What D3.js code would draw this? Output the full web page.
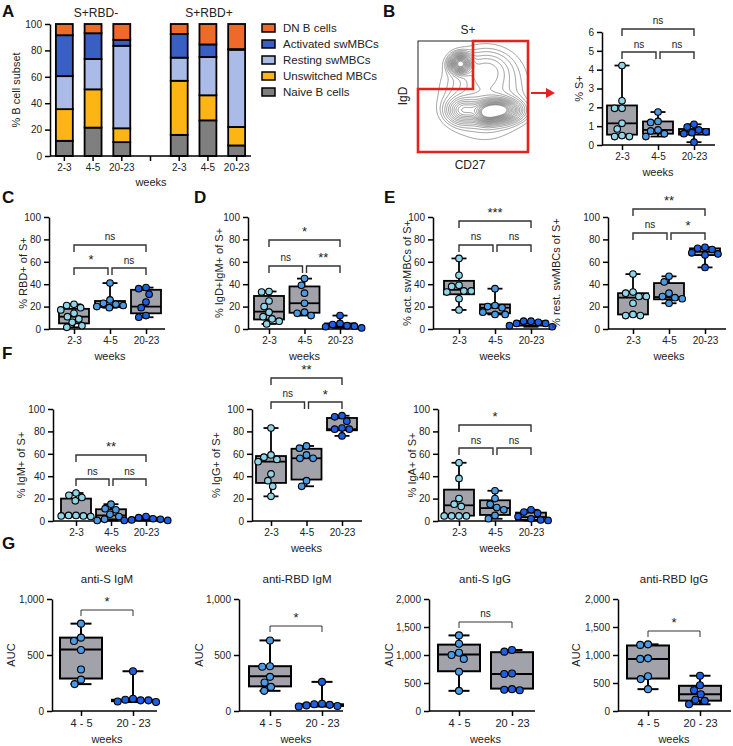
<!DOCTYPE html>
<html><head><meta charset="utf-8">
<script src="https://cdn.jsdelivr.net/npm/d3@7/dist/d3.min.js"></script>
<style>
body{margin:0;background:#fff;}
svg{display:block;font-family:"Liberation Sans",Arial,Helvetica,sans-serif;}
</style></head>
<body><svg id="c" width="733" height="746"></svg>
<script>
// ---------------- DATA ----------------
// Panel A: stacked subsets (% of B cell subset)
const subsetGroups = ["S+RBD-","S+RBD+"];
const subsetWeeks = ["2-3","4-5","20-23","","2-3","4-5","20-23"];
const subsetNames = ["Naive B cells","Unswitched MBCs","Resting swMBCs","Activated swMBCs","DN B cells"];
const naive      = [11.5,21.5,10.5,16,27,8];
const unswitched = [24,29,10.5,41,19,14];
const resting    = [25,23,62.5,17.5,29,58.5];
const activated  = [31,19.5,4.5,18,9.5,0.5];
const dnB        = [8.5,7,12,7.5,15.5,19];
const subsetColors = ["#7f7f7f","#fcb514","#a9bbe6","#3a5fc4","#ef6a2a"];

const weeks3 = ["2-3","4-5","20-23"];
const weeks2 = ["4 - 5","20 - 23"];

// Panel B: % S+
const sPts = [[4.22,2.35,1.95,1.95,1.15,0.85,0.5,0.45,0.45],[1.75,1.25,1.2,0.8,0.75,0.6,0.45],[1.1,0.95,0.8,0.7,0.65,0.6,0.15]];
const sBox = [[0.45,0.55,1.15,2.1,4.22],[0.45,0.6,0.8,1.25,1.75],[0.15,0.55,0.7,0.85,1.1]];
// Panel C: % RBD+ of S+
const rbdPts = [[22,21,19,17,14,11,9,6,3,1.5],[41,26,23,22,21,20,19],[37,36,31,24,19,12,10.5]];
const rbdBox = [[1.5,5,11,18,22],[19,19.5,21,25,41],[10.5,14,20,35,37]];
// Panel D: % IgD+IgM+ of S+
const igdPts = [[33.5,33,25,20,15,11,9,7,4.5],[45,39,32,23,15,14,12],[12,5,4,3,2.5,2,1]];
const igdBox = [[4.5,8.5,15.5,29.5,33.5],[12,14.5,23,38,45],[1,2,3,5,12]];
// Panel E: activated / resting swMBCs of S+
const actPts = [[63,48,39,38,34,34,33,27,17],[36,21,20,19,15,13,13],[7,7,6,5,5,3,2]];
const actBox = [[17,31,35,43,63],[13,14,19,22,36],[2,3,5,7,7]];
const restPts = [[49,33,32,29,29,23,13,12,12],[47,42,32,29,28,27,23],[73,72,71,68,67,66,55]];
const restBox = [[12,13,28,32,49],[23,26.5,28.5,41,47],[55,66,69,72,73]];
// Panel F: isotypes of S+
const igmPts = [[25,23,21,18,5,5,4.5,4.5,4],[15,11,10,6,4,1.5,0.5],[4,3,2,1.5,1,0.5,0.5]];
const igmBox = [[4,4.5,5.5,20,25],[0.5,1.5,5,10.5,15],[0.5,0.8,1.5,3,4]];
const iggPts = [[83,59,57,55,53,42,36,31,22],[67,65,59,56,56,36,31],[94,93,89,83,82,82,76]];
const iggBox = [[22,34,53,58,83],[31,37,56,64.5,67],[76,81,82,92,94]];
const igaPts = [[52,38,20,15,13,4.5,4.5,4.5,4.5],[27,20,15,12,10,5,2],[10,8,7,4,2,1,0.5]];
const igaBox = [[4.5,4.8,14,28,52],[2,5.4,11.5,18.5,27],[0.5,1,3.5,7.5,10]];
// Panel G: AUC
const sIgMPts = [[780,655,625,545,370,280,240],[355,110,100,95,95,85,80]];
const sIgMBox = [[240,290,550,655,780],[80,88,95,100,355]];
const rIgMPts = [[630,400,395,305,255,215,180],[260,65,60,55,50,45,40]];
const rIgMBox = [[180,220,310,400,630],[40,45,52,60,260]];
const sIgGPts = [[1350,1200,1040,1000,930,700,360],[1090,1060,670,660,390,380,370]];
const sIgGBox = [[360,710,1010,1185,1350],[370,400,660,1050,1090]];
const rIgGPts = [[1190,1180,940,930,620,570,390],[630,460,370,300,200,180,120]];
const rIgGBox = [[390,580,930,1170,1190],[120,185,300,450,630]];

// flow cytometry illustration: density blobs [cx, cy, sx, sy, weight] (fractions of gate box)
const flowBlobs = [[0.38,0.20,0.055,0.05,1.0],[0.72,0.62,0.12,0.06,1.1],[0.62,0.66,0.06,0.05,0.4],[0.40,0.62,0.09,0.07,0.45],[0.60,0.47,0.24,0.24,0.22],[0.62,0.24,0.14,0.1,0.14]];

const ptColors3 = ["#8fd6ea","#4a9be6","#1e5fe2"];
const ptColors2 = ["#4a9be6","#1e5fe2"];
const boxFill = "#a2a2aa";

// ---------------- DRAW ----------------
const svg = d3.select("#c");
const FONT = '"Liberation Sans",Arial,Helvetica,sans-serif';
const TXT = "#222";

function letter(t,x,y){
  svg.append("text").attr("x",x).attr("y",y).text(t)
    .attr("font-size",17).attr("font-weight","bold").attr("fill","#111");
}
function text(t,x,y,size,opts={}){
  const e = svg.append("text").attr("x",x).attr("y",y).text(t)
    .attr("font-size",size).attr("fill",TXT).attr("text-anchor",opts.anchor||"middle");
  if(opts.rotate) e.attr("transform",`rotate(-90,${x},${y})`).attr("dominant-baseline","middle");
  return e;
}
function styleAxis(g){
  g.selectAll("path.domain").attr("stroke","#000").attr("stroke-width",1.5);
  g.selectAll(".tick line").attr("stroke","#000").attr("stroke-width",1.5);
  g.selectAll(".tick text").attr("font-size",10).attr("font-family",FONT).attr("fill",TXT);
}

// ---- Panel A ----
letter("A",2,17);
(function(){
  const ax=50, y0=156, yTop=24, xEnd=251;
  const y = d3.scaleLinear().domain([0,100]).range([y0,yTop]);
  const slots = d3.range(7).map(i=>"s"+i);
  const x = d3.scaleBand().domain(slots).range([ax,xEnd]).paddingInner(0.41).paddingOuter(0.205);
  const barSlots = ["s0","s1","s2","s4","s5","s6"];
  const rows = barSlots.map((s,i)=>({slot:s,n:naive[i],u:unswitched[i],r:resting[i],a:activated[i],d:dnB[i]}));
  const stack = d3.stack().keys(["n","u","r","a","d"])(rows);
  stack.forEach((layer,k)=>{
    svg.append("g").selectAll("rect").data(layer).join("rect")
      .attr("x",d=>x(d.data.slot)).attr("width",x.bandwidth())
      .attr("y",d=>y(d[1])).attr("height",d=>y(d[0])-y(d[1]))
      .attr("fill",subsetColors[k]).attr("stroke","#000").attr("stroke-width",1.8);
  });
  const ya = svg.append("g").attr("transform",`translate(${ax},0)`)
    .call(d3.axisLeft(y).tickValues([0,20,40,60,80,100]).tickSize(5).tickSizeOuter(0));
  styleAxis(ya);
  const xa = svg.append("g").attr("transform",`translate(0,${y0})`)
    .call(d3.axisBottom(x).tickSize(5).tickSizeOuter(0).tickFormat((d,i)=>subsetWeeks[i]));
  xa.select(".domain").remove();
  styleAxis(xa);
  svg.append("line").attr("x1",ax).attr("x2",xEnd).attr("y1",y0).attr("y2",y0).attr("stroke","#000").attr("stroke-width",1.5);
  text(subsetGroups[0],96,17,12);
  text(subsetGroups[1],209,17,12);
  text("% B cell subset",17,(y0+yTop)/2,11,{rotate:true});
  text("weeks",151,186,11);
  const legY=[28,44,60,76,92];
  [4,3,2,1,0].forEach((k,i)=>{
    svg.append("rect").attr("x",262).attr("y",legY[i]-4).attr("width",13).attr("height",8)
      .attr("fill",subsetColors[k]).attr("stroke","#000").attr("stroke-width",1.5);
    text(subsetNames[k],283,legY[i]+4,11.5,{anchor:"start"});
  });
})();

// ---- Panel B: flow plot ----
letter("B",383,17);
(function(){
  const bx=418, by=41, bw=110, bh=111;
  const nx=bw, ny=bh, vals=new Array(nx*ny);
  for(let j=0;j<ny;j++) for(let i=0;i<nx;i++){
    const fx=i/nx, fy=j/ny; let v=0;
    flowBlobs.forEach(([cx,cy,sx,sy,w])=>{ v+=w*Math.exp(-((fx-cx)**2/(2*sx*sx)+(fy-cy)**2/(2*sy*sy))); });
    vals[j*nx+i]=v;
  }
  const ths=[0.05,0.08,0.11,0.15,0.19,0.24,0.29,0.35,0.41,0.47,0.53,0.6,0.67,0.74,0.81,0.88,0.94,1.0];
  const cont = d3.contours().size([nx,ny]).thresholds(ths)(vals);
  const gp = d3.geoPath();
  svg.append("g").attr("transform",`translate(${bx},${by})`).selectAll("path").data(cont).join("path")
    .attr("d",gp).attr("fill","none").attr("stroke","#5a5a5a").attr("stroke-width",0.6);
  svg.append("rect").attr("x",bx).attr("y",by).attr("width",bw).attr("height",bh).attr("fill","none").attr("stroke","#222").attr("stroke-width",1);
  const gate=[[bx,89],[473,89],[473,by],[bx+bw,by],[bx+bw,by+bh],[bx,by+bh]];
  svg.append("path").attr("d",d3.line()(gate)+"Z").attr("fill","none").attr("stroke","#e6201c").attr("stroke-width",2.6);
  text("S+",468,34,12);
  text("IgD",404,96,12,{rotate:true});
  text("CD27",470,169,12);
  svg.append("line").attr("x1",531).attr("x2",547).attr("y1",93).attr("y2",93).attr("stroke","#e6201c").attr("stroke-width",2);
  svg.append("path").attr("d","M546,88 L555,93 L546,98 Z").attr("fill","#e6201c");
})();

// ---- generic box panel ----
function dodge(vals,yf,r){
  const order=vals.map((v,i)=>i).sort((a,b)=>vals[b]-vals[a]);
  const placed=[], off=new Array(vals.length), d2=4*r*r;
  for(const i of order){
    const py=yf(vals[i]); const c=[0];
    placed.forEach(p=>{const dy=Math.abs(p.y-py); if(dy<2*r){const dx=Math.sqrt(d2-dy*dy); c.push(p.x+dx,p.x-dx);}});
    c.sort((a,b)=>Math.abs(a)-Math.abs(b)||a-b);
    for(const cx of c){ if(placed.every(p=>(p.x-cx)**2+(p.y-py)**2>=d2-0.01)){off[i]=cx;placed.push({x:cx,y:py});break;} }
  }
  return off;
}
function boxPanel(o){
  const y=d3.scaleLinear().domain([0,o.max]).range([o.y0,o.yTop]);
  const x=d3.scalePoint().domain(o.cats).range(o.catRange);
  const g=svg.append("g");
  const ya=g.append("g").attr("transform",`translate(${o.ax},0)`)
    .call(d3.axisLeft(y).tickValues(o.ticks).tickSize(5).tickSizeOuter(0).tickFormat(o.fmt||d3.format("d")));
  styleAxis(ya);
  const xa=g.append("g").attr("transform",`translate(0,${o.y0})`)
    .call(d3.axisBottom(x).tickSize(5).tickSizeOuter(0));
  xa.select(".domain").remove();
  styleAxis(xa);
  xa.selectAll(".tick text").attr("font-size",o.xfs||10);
  g.append("line").attr("x1",o.ax).attr("x2",o.xEnd).attr("y1",o.y0).attr("y2",o.y0).attr("stroke","#000").attr("stroke-width",1.5);
  const bw=o.boxW, cw=o.capW, sw=o.sw||1.8;
  o.box.forEach((b,i)=>{
    const cx=x(o.cats[i]);
    g.append("line").attr("x1",cx).attr("x2",cx).attr("y1",y(b[0])).attr("y2",y(b[4])).attr("stroke","#000").attr("stroke-width",sw);
    [b[0],b[4]].forEach(v=>g.append("line").attr("x1",cx-cw/2).attr("x2",cx+cw/2).attr("y1",y(v)).attr("y2",y(v)).attr("stroke","#000").attr("stroke-width",sw));
    g.append("rect").attr("x",cx-bw/2).attr("width",bw).attr("y",y(b[3])).attr("height",y(b[1])-y(b[3]))
      .attr("fill",boxFill).attr("stroke","#000").attr("stroke-width",sw);
    g.append("line").attr("x1",cx-bw/2).attr("x2",cx+bw/2).attr("y1",y(b[2])).attr("y2",y(b[2])).attr("stroke","#000").attr("stroke-width",sw);
  });
  o.pts.forEach((arr,i)=>{
    const cx=x(o.cats[i]); const off=dodge(arr,y,o.r+0.4);
    g.append("g").selectAll("circle").data(arr).join("circle")
      .attr("cx",(d,k)=>cx+off[k]).attr("cy",d=>y(d)).attr("r",o.r)
      .attr("fill",o.colors[i]).attr("stroke","#000").attr("stroke-width",1.1);
  });
  const leg=o.leg||7, bsw=o.bsw||1.4;
  o.brackets.forEach(([i,j,yy,lab,ly])=>{
    let x1=x(o.cats[i]), x2=x(o.cats[j]);
    if(o.cats.length===3 && j-i===1){ if(i===0) x2-=2; else x1+=2; }
    g.append("path").attr("d",`M${x1},${yy+leg}V${yy}H${x2}V${yy+leg}`).attr("fill","none").attr("stroke","#333").attr("stroke-width",bsw);
    const star=lab.indexOf("*")>=0;
    text(lab,(x1+x2)/2,star?ly+7:ly+4,star?13:10);
  });
  const mid=(o.catRange[0]+o.catRange[1])/2;
  text("weeks",mid,o.weeksY,11);
  text(o.ylabel,o.ylabelX,(o.y0+o.yTop)/2,11,{rotate:true});
  if(o.title) text(o.title,o.titleX,o.titleY,11.5);
}

// ---- B box ----
boxPanel({ax:602,xEnd:715,y0:145,yTop:32,max:6,ticks:[0,1,2,3,4,5,6],cats:weeks3,catRange:[622,694],
  pts:sPts,box:sBox,colors:ptColors3,boxW:30,capW:15,r:3.3,
  brackets:[[0,2,29,"ns",20],[0,1,52,"ns",44],[1,2,52,"ns",44]],weeksY:176,ylabel:"% S+",ylabelX:580});
// ---- C ----
letter("C",2,203);
boxPanel({ax:49,xEnd:165,y0:329,yTop:217,max:100,ticks:[0,20,40,60,80,100],cats:weeks3,catRange:[74,146],
  pts:rbdPts,box:rbdBox,colors:ptColors3,boxW:30,capW:15,r:3.3,
  brackets:[[0,2,245,"ns",236],[0,1,268,"*",257],[1,2,268,"ns",260]],weeksY:360,ylabel:"% RBD+ of S+",ylabelX:24});
// ---- D ----
letter("D",194,203);
boxPanel({ax:248,xEnd:360,y0:329,yTop:217,max:100,ticks:[0,20,40,60,80,100],cats:weeks3,catRange:[269,340],
  pts:igdPts,box:igdBox,colors:ptColors3,boxW:30,capW:15,r:3.3,
  brackets:[[0,2,240,"*",229],[0,1,266,"ns",257],[1,2,266,"**",255]],weeksY:360,ylabel:"% IgD+IgM+ of S+",ylabelX:220});
// ---- E ----
letter("E",384,203);
boxPanel({ax:433,xEnd:550,y0:329,yTop:217,max:100,ticks:[0,20,40,60,80,100],cats:weeks3,catRange:[459,531],
  pts:actPts,box:actBox,colors:ptColors3,boxW:30,capW:15,r:3.3,
  brackets:[[0,2,221,"***",210],[0,1,245,"ns",236],[1,2,245,"ns",236]],weeksY:360,ylabel:"% act. swMBCs of S+",ylabelX:408});
boxPanel({ax:608,xEnd:726,y0:329,yTop:217,max:100,ticks:[0,20,40,60,80,100],cats:weeks3,catRange:[633,705],
  pts:restPts,box:restBox,colors:ptColors3,boxW:30,capW:15,r:3.3,
  brackets:[[0,2,209,"**",198],[0,1,233,"ns",224],[1,2,233,"*",223]],weeksY:360,ylabel:"% rest. swMBCs of S+",ylabelX:557});
// ---- F ----
letter("F",2,359);
boxPanel({ax:53,xEnd:167,y0:521,yTop:409,max:100,ticks:[0,20,40,60,80,100],cats:weeks3,catRange:[76,146],
  pts:igmPts,box:igmBox,colors:ptColors3,boxW:30,capW:15,r:3.3,
  brackets:[[0,2,455,"**",444],[0,1,479,"ns",471],[1,2,479,"ns",471]],weeksY:552,ylabel:"% IgM+ of S+",ylabelX:22});
boxPanel({ax:252,xEnd:362,y0:521,yTop:409,max:100,ticks:[0,20,40,60,80,100],cats:weeks3,catRange:[271,342],
  pts:iggPts,box:iggBox,colors:ptColors3,boxW:30,capW:15,r:3.3,
  brackets:[[0,2,378,"**",367],[0,1,402,"ns",393],[1,2,402,"*",392]],weeksY:552,ylabel:"% IgG+ of S+",ylabelX:217});
boxPanel({ax:438,xEnd:551,y0:521,yTop:409,max:100,ticks:[0,20,40,60,80,100],cats:weeks3,catRange:[459,531],
  pts:igaPts,box:igaBox,colors:ptColors3,boxW:30,capW:15,r:3.3,
  brackets:[[0,2,425,"*",414],[0,1,448,"ns",440],[1,2,448,"ns",440]],weeksY:552,ylabel:"% IgA+ of S+",ylabelX:413});
// ---- G ----
letter("G",2,549);
const fmtC=d3.format(",");
boxPanel({ax:52,xEnd:157,y0:711,yTop:599,max:1000,ticks:[0,500,1000],fmt:fmtC,cats:weeks2,catRange:[81,133],
  pts:sIgMPts,box:sIgMBox,colors:ptColors2,boxW:42,capW:21,r:3.5,sw:2,xfs:11,leg:6,bsw:1,
  brackets:[[0,1,610,"*",599]],weeksY:743,ylabel:"AUC",ylabelX:12,title:"anti-S IgM",titleX:107,titleY:583});
boxPanel({ax:239,xEnd:343,y0:711,yTop:599,max:1000,ticks:[0,500,1000],fmt:fmtC,cats:weeks2,catRange:[270,322],
  pts:rIgMPts,box:rIgMBox,colors:ptColors2,boxW:42,capW:21,r:3.5,sw:2,xfs:11,leg:6,bsw:1,
  brackets:[[0,1,626,"*",615]],weeksY:743,ylabel:"AUC",ylabelX:200,title:"anti-RBD IgM",titleX:297,titleY:583});
boxPanel({ax:429,xEnd:535,y0:711,yTop:599,max:2000,ticks:[0,500,1000,1500,2000],fmt:fmtC,cats:weeks2,catRange:[459,512],
  pts:sIgGPts,box:sIgGBox,colors:ptColors2,boxW:42,capW:21,r:3.5,sw:2,xfs:11,leg:6,bsw:1,
  brackets:[[0,1,622,"ns",613]],weeksY:743,ylabel:"AUC",ylabelX:390,title:"anti-S IgG",titleX:485,titleY:583});
boxPanel({ax:618,xEnd:731,y0:711,yTop:599,max:2000,ticks:[0,500,1000,1500,2000],fmt:fmtC,cats:weeks2,catRange:[648,700],
  pts:rIgGPts,box:rIgGBox,colors:ptColors2,boxW:42,capW:21,r:3.5,sw:2,xfs:11,leg:6,bsw:1,
  brackets:[[0,1,631,"*",620]],weeksY:743,ylabel:"AUC",ylabelX:577,title:"anti-RBD IgG",titleX:674,titleY:583});
</script></body></html>
